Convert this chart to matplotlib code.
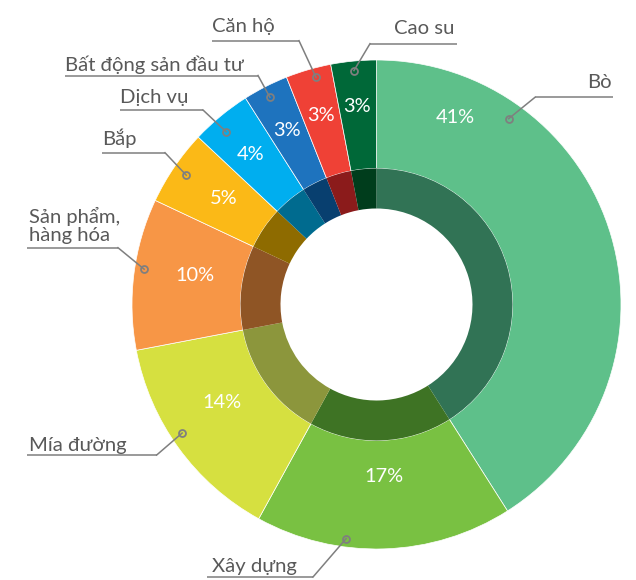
import numpy as np
import matplotlib
matplotlib.use("Agg")
import matplotlib.pyplot as plt

# ---- data ----
categories = ["Bò", "Xây dựng", "Mía đường", "Sản phẩm,\nhàng hóa", "Bắp",
              "Dịch vụ", "Bất động sản đầu tư", "Căn hộ", "Cao su"]
shares = [41, 17, 14, 10, 5, 4, 3, 3, 3]
pct_labels = ["41%", "17%", "14%", "10%", "5%", "4%", "3%", "3%", "3%"]

# ---- style ----
outer_colors = ["#5EC08A", "#79C142", "#D6E040", "#F79646", "#FBB917",
                "#00AEEF", "#1E73BE", "#EF4136", "#006838"]
inner_colors = ["#317355", "#3E7324", "#8C963C", "#8F5525", "#8E6B00",
                "#006B8F", "#083F6F", "#8B1B1B", "#003D1C"]

W, H = 636, 580
CX, CY = 376.5, 304.5          # pixel centre
R_OUT, R_MID, R_HOLE = 244.5, 136, 96

plt.rcParams['font.family'] = ['Lato', 'DejaVu Sans']
TXT = "#595959"
LINE = "#7F7F7F"
FS = 14.6
FS_PCT = 14.4

fig = plt.figure(figsize=(W / 100, H / 100), dpi=100)
ax = fig.add_axes([0, 0, 1, 1])

def py(y):
    return H - y

center = (CX, py(CY))
ax.pie(shares, radius=R_OUT, center=center, startangle=90, counterclock=False,
       colors=outer_colors, wedgeprops=dict(width=R_OUT - R_MID, linewidth=0.5,
                                            edgecolor="white"))
ax.pie(shares, radius=R_MID, center=center, startangle=90, counterclock=False,
       colors=inner_colors, wedgeprops=dict(width=R_MID - R_HOLE, linewidth=0))

ax.set_xlim(0, W)
ax.set_ylim(0, H)
ax.set_aspect('auto')
ax.axis('off')

vals = np.array(shares, dtype=float)
cum = np.concatenate([[0], np.cumsum(vals)]) / vals.sum() * 360.0

def polar(a_deg, r):
    a = np.radians(a_deg)
    return CX + r * np.sin(a), py(CY) + r * np.cos(a)

# percent label placement (fraction within wedge, radius)
pct_frac = [0.155, 0.49, 0.57, 0.55, 0.52, 0.46, 0.48, 0.48, 0.47]
pct_rad = [203, 172, 183, 184, 186, 196, 196, 197, 199]
for i, lab in enumerate(pct_labels):
    a = cum[i] + pct_frac[i] * (cum[i + 1] - cum[i])
    x, y = polar(a, pct_rad[i])
    ax.text(x, y, lab, color="white", fontsize=FS_PCT, ha="center", va="center")

# leader lines: dot (fraction, radius), underline (y, x_start, x_end), elbow side, text
dot_frac = [0.24, 0.65, 0.55, 0.54, 0.50, 0.40, 0.48, 0.62, 0.49]
dot_rad = [228, 236, 233, 235, 230, 229, 233, 235, 235]
under = [(97.3, 535, 612.7), (577, 207, 313), (455, 27, 156.7), (247.7, 27, 118),
         (152.7, 101.7, 165), (110, 120, 203), (75.5, 65, 258), (40.7, 211.7, 299),
         (43.7, 370, 456.7)]
elbow_left = [True, False, False, False, False, False, False, False, True]
text_pos = [(612, 87.7, "right"), (211.7, 571.7, "left"), (29, 450.7, "left"),
            (29, 241, "left"), (101.7, 145, "left"), (120, 103, "left"),
            (65, 70.5, "left"), (211.7, 32.3, "left"), (394, 34.3, "left")]

for i, name in enumerate(categories):
    a = cum[i] + dot_frac[i] * (cum[i + 1] - cum[i])
    dx, dy = polar(a, dot_rad[i])
    yl, x0, x1 = under[i]
    ex = x0 if elbow_left[i] else x1
    ax.plot([x0, x1], [py(yl), py(yl)], color=LINE, lw=1.1, solid_capstyle="butt")
    ax.plot([ex, dx], [py(yl), dy], color=LINE, lw=1.1)
    ax.plot([dx], [dy], marker="o", ms=5, mfc="none", mec=LINE, mew=1.3)
    tx, ty, ha = text_pos[i]
    ax.text(tx, py(ty), name, color=TXT, fontsize=FS, ha=ha, va="baseline",
            linespacing=1.05)

fig.savefig("out.png", dpi=100)
